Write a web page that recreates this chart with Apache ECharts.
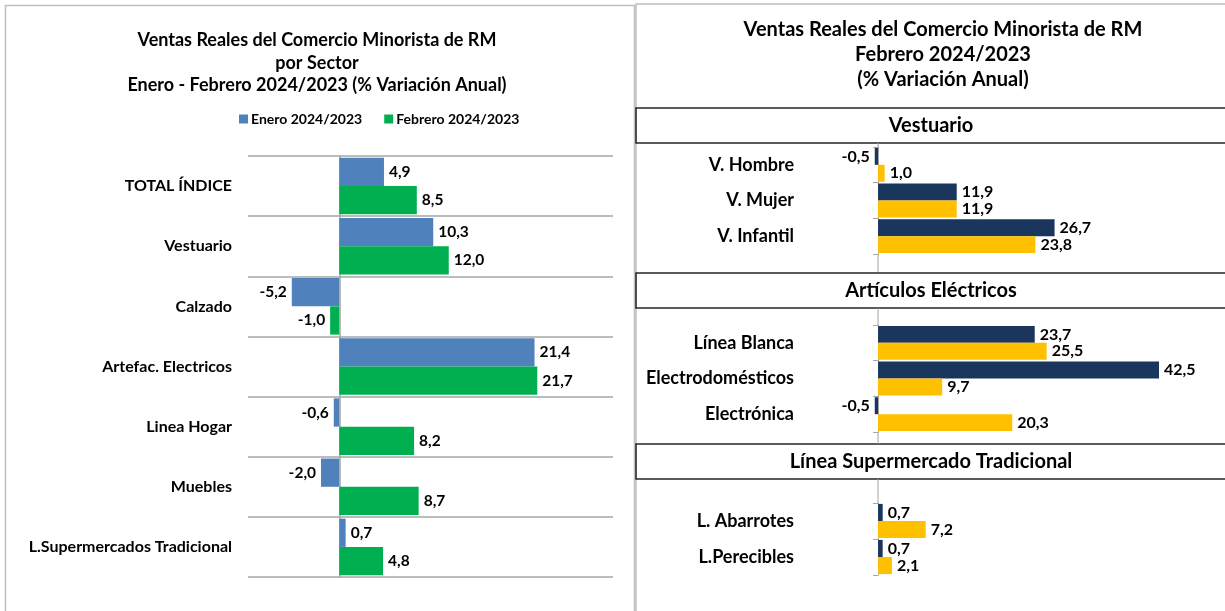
<!DOCTYPE html>
<html lang="es">
<head>
    <meta charset="utf-8" />
    <title>Ventas Reales del Comercio Minorista de RM</title>
    <script src="https://cdn.jsdelivr.net/npm/echarts@6/dist/echarts.min.js"></script>
    <style>
        html, body { margin: 0; padding: 0; background: #fff; }
        #chart { width: 1225px; height: 611px; }
    </style>
</head>
<body>
    <div id="chart"></div>
    <script>
        // panel izquierdo: por sector
        var sectores = ['TOTAL ÍNDICE', 'Vestuario', 'Calzado', 'Artefac. Electricos', 'Linea Hogar', 'Muebles', 'L.Supermercados Tradicional'];
        var enero = [4.9, 10.3, -5.2, 21.4, -0.6, -2.0, 0.7];
        var febrero = [8.5, 12.0, -1.0, 21.7, 8.2, 8.7, 4.8];

        // panel derecho: febrero por linea
        var vestCats = ['V. Hombre', 'V. Mujer', 'V. Infantil'];
        var vestA = [-0.5, 11.9, 26.7];
        var vestB = [1.0, 11.9, 23.8];

        var elecCats = ['Línea Blanca', 'Electrodomésticos', 'Electrónica'];
        var elecA = [23.7, 42.5, -0.5];
        var elecB = [25.5, 9.7, 20.3];

        var superCats = ['L. Abarrotes', 'L.Perecibles'];
        var superA = [0.7, 0.7];
        var superB = [7.2, 2.1];

        var FONT = 'Lato';
        var GRIS = '#A6A6A6';

        function fmt(p) {
            return p.value.toFixed(1).replace('.', ',');
        }

        // cada dato con su etiqueta a la derecha o izquierda segun el signo
        function datos(arr) {
            return arr.map(function (v) {
                return { value: v, label: { position: v < 0 ? 'left' : 'right' } };
            });
        }

        function serie(name, arr, color, idx, size, gap) {
            return {
                name: name,
                type: 'bar',
                xAxisIndex: idx,
                yAxisIndex: idx,
                data: datos(arr),
                barGap: '0%',
                barCategoryGap: gap,
                itemStyle: { color: color },
                label: {
                    show: true,
                    formatter: fmt,
                    distance: 5,
                    color: '#000',
                    fontFamily: FONT,
                    fontWeight: 'bold',
                    fontSize: size
                },
                silent: true
            };
        }

        function ejeCat(cats, idx, margin, size, ticks) {
            return {
                type: 'category',
                gridIndex: idx,
                data: cats,
                inverse: true,
                axisLine: { show: true, onZero: true, lineStyle: { color: GRIS, width: ticks ? 1 : 1.5 } },
                axisTick: { show: ticks, length: 5, lineStyle: { color: GRIS } },
                axisLabel: {
                    margin: margin,
                    color: '#000',
                    fontFamily: FONT,
                    fontWeight: 'bold',
                    fontSize: size
                },
                splitLine: { show: !ticks, lineStyle: { color: GRIS, width: 1.5 } }
            };
        }

        function ejeVal(idx, min, max) {
            return { type: 'value', gridIndex: idx, min: min, max: max, show: false };
        }

        function caja(y, texto) {
            return [{
                type: 'rect',
                shape: { x: 636, y: y, width: 620, height: 35 },
                style: { fill: 'none', stroke: '#262626', lineWidth: 1.5 }
            }, {
                type: 'text',
                x: 931, y: y + 18,
                style: {
                    text: texto, fill: '#000', align: 'center', verticalAlign: 'middle',
                    font: 'bold 20px ' + FONT
                }
            }];
        }

        function linea(y1, y2) {
            return {
                type: 'line',
                shape: { x1: 878, y1: y1, x2: 878, y2: y2 },
                style: { stroke: GRIS, lineWidth: 1 }
            };
        }

        var graficos = [
            {
                type: 'rect',
                shape: { x: 5.5, y: 5.5, width: 629, height: 620 },
                style: { fill: 'none', stroke: '#BFBFBF', lineWidth: 1.5 }
            },
            {
                type: 'rect',
                shape: { x: 636, y: 4, width: 620, height: 620 },
                style: { fill: 'none', stroke: '#BFBFBF', lineWidth: 1.5 }
            }
        ]
            .concat(caja(108, 'Vestuario'))
            .concat(caja(273, 'Artículos Eléctricos'))
            .concat(caja(444, 'Línea Supermercado Tradicional'))
            .concat([linea(143, 147), linea(254, 272), linea(308, 325), linea(432, 444), linea(479, 503)]);

        var myChart = echarts.init(document.getElementById('chart'));
        var option = {
            animation: false,
            backgroundColor: '#fff',
            title: [{
                text: 'Ventas Reales del Comercio Minorista de RM\npor Sector\nEnero - Febrero 2024/2023 (% Variación Anual)',
                left: 317, top: 29, textAlign: 'center', padding: 0,
                textStyle: { fontFamily: FONT, fontWeight: 'bold', fontSize: 18, lineHeight: 22.5, color: '#000' }
            }, {
                text: 'Ventas Reales del Comercio Minorista de RM\nFebrero 2024/2023\n(% Variación Anual)',
                left: 943, top: 17, textAlign: 'center', padding: 0,
                textStyle: { fontFamily: FONT, fontWeight: 'bold', fontSize: 20, lineHeight: 25, color: '#000' }
            }],
            legend: {
                data: ['Enero 2024/2023', 'Febrero 2024/2023'],
                left: 239, top: 112, padding: 0,
                icon: 'rect', itemWidth: 9, itemHeight: 9, itemGap: 22,
                selectedMode: false,
                textStyle: { fontFamily: FONT, fontWeight: 'bold', fontSize: 14, color: '#000', padding: [0, 0, 0, -2] }
            },
            grid: [
                { left: 248, top: 156, width: 365, height: 421, outerBoundsMode: 'none' },
                { left: 845, top: 147, width: 363.6, height: 107, outerBoundsMode: 'none' },
                { left: 845, top: 325, width: 363.6, height: 107, outerBoundsMode: 'none' },
                { left: 845, top: 503, width: 363.6, height: 72, outerBoundsMode: 'none' }
            ],
            xAxis: [ejeVal(0, -10, 30), ejeVal(1, -5, 50), ejeVal(2, -5, 50), ejeVal(3, -5, 50)],
            yAxis: [
                ejeCat(sectores, 0, 16, 16, false),
                ejeCat(vestCats, 1, 51, 18, true),
                ejeCat(elecCats, 2, 51, 18, true),
                ejeCat(superCats, 3, 51, 18, true)
            ],
            series: [
                serie('Enero 2024/2023', enero, '#4F81BD', 0, 15.5, '6%'),
                serie('Febrero 2024/2023', febrero, '#00B050', 0, 15.5, '6%'),
                serie('Vestuario A', vestA, '#1B365D', 1, 16, '5%'),
                serie('Vestuario B', vestB, '#FFC000', 1, 16, '5%'),
                serie('Eléctricos A', elecA, '#1B365D', 2, 16, '5%'),
                serie('Eléctricos B', elecB, '#FFC000', 2, 16, '5%'),
                serie('Supermercado A', superA, '#1B365D', 3, 16, '5%'),
                serie('Supermercado B', superB, '#FFC000', 3, 16, '5%')
            ],
            graphic: graficos
        };
        myChart.setOption(option);
    </script>
</body>
</html>
